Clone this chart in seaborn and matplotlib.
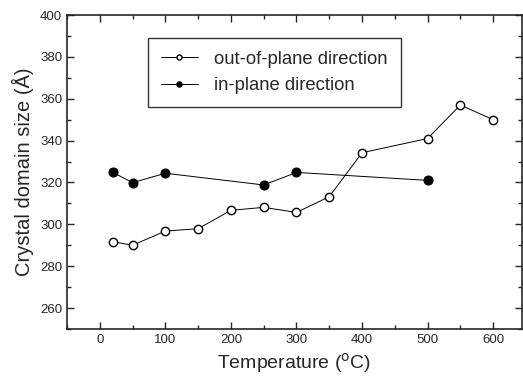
import numpy as np
import pandas as pd
import matplotlib
matplotlib.use('Agg')
import matplotlib.pyplot as plt
import seaborn as sns
from matplotlib.ticker import MultipleLocator

# out-of-plane direction
temp_out = [20, 50, 100, 150, 200, 250, 300, 350, 400, 500, 550, 600]
size_out = [291.7, 290, 296.8, 297.9, 306.7, 308.1, 305.7, 313.2, 334.2, 341, 357, 350]
# in-plane direction
temp_in = [20, 50, 100, 250, 300, 500]
size_in = [324.8, 319.9, 324.4, 318.8, 324.8, 321]

df_out = pd.DataFrame({'T': temp_out, 'size': size_out})
df_in = pd.DataFrame({'T': temp_in, 'size': size_in})

sns.set_style('ticks')
plt.rcParams['font.family'] = ['Liberation Sans', 'DejaVu Sans']

fig = plt.figure(figsize=(5.23, 3.77), dpi=100)
ax = fig.add_axes([67/523, 1-329/377, 455/523, 314/377])

sns.lineplot(data=df_out, x='T', y='size', ax=ax, color='black', lw=0.7,
             marker='o', markersize=6, markerfacecolor='white', markeredgecolor='black',
             markeredgewidth=1, label='out-of-plane direction')
sns.lineplot(data=df_in, x='T', y='size', ax=ax, color='black', lw=0.7,
             marker='o', markersize=6.5, markerfacecolor='black', markeredgecolor='black',
             label='in-plane direction')

ax.set_xlim(-50, 644)
ax.set_ylim(250, 400)
ax.xaxis.set_major_locator(MultipleLocator(100))
ax.xaxis.set_minor_locator(MultipleLocator(50))
ax.yaxis.set_minor_locator(MultipleLocator(10))
ax.set_yticks([260, 280, 300, 320, 340, 360, 380, 400])
ax.tick_params(which='both', direction='in', top=True, right=True, labelsize=9.5, width=1)
ax.tick_params(which='major', length=5)
ax.tick_params(which='minor', length=3)
for s in ax.spines.values():
    s.set_linewidth(1.2)

ax.set_xlabel('Temperature ($^{\\rm o}$C)', fontsize=14)
ax.set_ylabel('Crystal domain size (Å)', fontsize=14.5)

leg = ax.legend(loc='upper left', bbox_to_anchor=(0.178, 0.927), frameon=True, fancybox=False,
                edgecolor='black', fontsize=13.3, handlelength=2.0, markerscale=0.6,
                borderpad=0.7, labelspacing=0.5, handletextpad=0.9, borderaxespad=0)
leg.get_frame().set_linewidth(1)

fig.savefig('out.png', dpi=100)
